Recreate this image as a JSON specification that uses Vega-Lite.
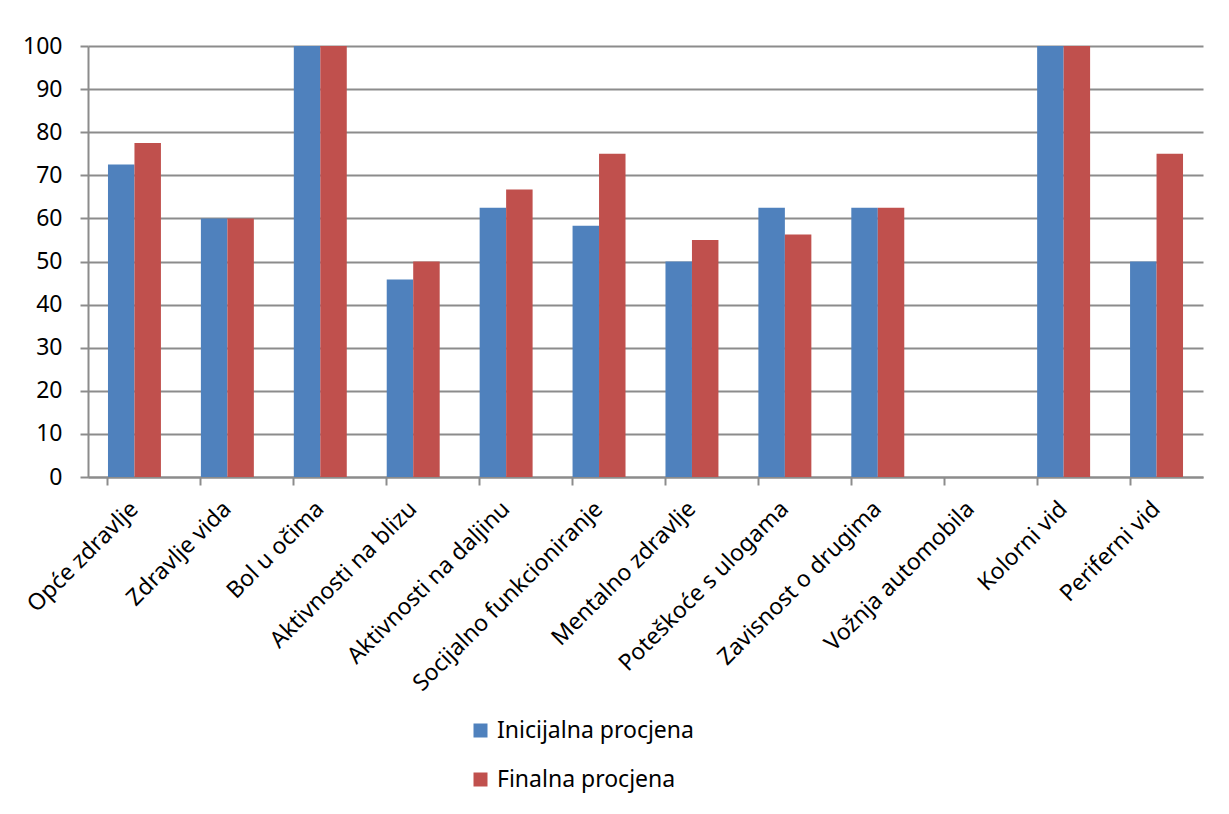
{
  "$schema": "https://vega.github.io/schema/vega-lite/v6.json",
  "width": 1115,
  "height": 431,
  "autosize": {"type": "none"},
  "padding": {"left": 88, "top": 46, "right": 26, "bottom": 337},
  "background": "white",
  "data": {
    "values": [
      {"kategorija": "Opće zdravlje", "serija": "Inicijalna procjena", "vrijednost": 72.5},
      {"kategorija": "Opće zdravlje", "serija": "Finalna procjena", "vrijednost": 77.5},
      {"kategorija": "Zdravlje vida", "serija": "Inicijalna procjena", "vrijednost": 60},
      {"kategorija": "Zdravlje vida", "serija": "Finalna procjena", "vrijednost": 60},
      {"kategorija": "Bol u očima", "serija": "Inicijalna procjena", "vrijednost": 100},
      {"kategorija": "Bol u očima", "serija": "Finalna procjena", "vrijednost": 100},
      {"kategorija": "Aktivnosti na blizu", "serija": "Inicijalna procjena", "vrijednost": 45.8},
      {"kategorija": "Aktivnosti na blizu", "serija": "Finalna procjena", "vrijednost": 50},
      {"kategorija": "Aktivnosti na daljinu", "serija": "Inicijalna procjena", "vrijednost": 62.5},
      {"kategorija": "Aktivnosti na daljinu", "serija": "Finalna procjena", "vrijednost": 66.7},
      {"kategorija": "Socijalno funkcioniranje", "serija": "Inicijalna procjena", "vrijednost": 58.3},
      {"kategorija": "Socijalno funkcioniranje", "serija": "Finalna procjena", "vrijednost": 75},
      {"kategorija": "Mentalno zdravlje", "serija": "Inicijalna procjena", "vrijednost": 50},
      {"kategorija": "Mentalno zdravlje", "serija": "Finalna procjena", "vrijednost": 55},
      {"kategorija": "Poteškoće s ulogama", "serija": "Inicijalna procjena", "vrijednost": 62.5},
      {"kategorija": "Poteškoće s ulogama", "serija": "Finalna procjena", "vrijednost": 56.25},
      {"kategorija": "Zavisnost o drugima", "serija": "Inicijalna procjena", "vrijednost": 62.5},
      {"kategorija": "Zavisnost o drugima", "serija": "Finalna procjena", "vrijednost": 62.5},
      {"kategorija": "Vožnja automobila", "serija": "Inicijalna procjena", "vrijednost": 0},
      {"kategorija": "Vožnja automobila", "serija": "Finalna procjena", "vrijednost": 0},
      {"kategorija": "Kolorni vid", "serija": "Inicijalna procjena", "vrijednost": 100},
      {"kategorija": "Kolorni vid", "serija": "Finalna procjena", "vrijednost": 100},
      {"kategorija": "Periferni vid", "serija": "Inicijalna procjena", "vrijednost": 50},
      {"kategorija": "Periferni vid", "serija": "Finalna procjena", "vrijednost": 75}
    ]
  },
  "mark": {"type": "bar"},
  "encoding": {
    "x": {
      "field": "kategorija",
      "type": "nominal",
      "sort": null,
      "scale": {"paddingInner": 0.43, "paddingOuter": 0.215},
      "axis": {
        "title": null,
        "labelAngle": -45,
        "labelAlign": "right",
        "labelBaseline": "middle",
        "labelFont": "Noto Sans",
        "labelFontSize": 23,
        "labelColor": "black",
        "labelPadding": 20,
        "bandPosition": 0,
        "ticks": true,
        "tickSize": 8,
        "tickColor": "#8c8c8c",
        "tickWidth": 2,
        "domainColor": "#8c8c8c",
        "domainWidth": 2,
        "grid": false,
        "labelOverlap": false
      }
    },
    "xOffset": {
      "field": "serija",
      "type": "nominal",
      "sort": ["Inicijalna procjena", "Finalna procjena"],
      "scale": {"paddingInner": 0, "paddingOuter": 0}
    },
    "y": {
      "field": "vrijednost",
      "type": "quantitative",
      "scale": {"domain": [0, 100], "nice": false},
      "axis": {
        "title": null,
        "values": [0, 10, 20, 30, 40, 50, 60, 70, 80, 90, 100],
        "labelFont": "Noto Sans",
        "labelFontSize": 23,
        "labelColor": "black",
        "labelPadding": 18,
        "tickSize": 8,
        "tickColor": "#8c8c8c",
        "tickWidth": 2,
        "domainColor": "#8c8c8c",
        "domainWidth": 2,
        "grid": true,
        "gridColor": "#8c8c8c",
        "gridWidth": 2
      }
    },
    "color": {
      "field": "serija",
      "type": "nominal",
      "sort": ["Inicijalna procjena", "Finalna procjena"],
      "scale": {"domain": ["Inicijalna procjena", "Finalna procjena"], "range": ["#4F81BD", "#C0504D"]},
      "legend": {
        "title": null,
        "orient": "none",
        "legendX": 381,
        "legendY": 673,
        "direction": "vertical",
        "symbolType": "square",
        "symbolSize": 196,
        "symbolStrokeWidth": 0,
        "labelFont": "Noto Sans",
        "labelFontSize": 23,
        "labelColor": "black",
        "labelOffset": 5,
        "labelLimit": 400,
        "rowPadding": 25
      }
    }
  },
  "config": {
    "view": {"stroke": null},
    "axis": {"labelLimit": 400}
  }
}
